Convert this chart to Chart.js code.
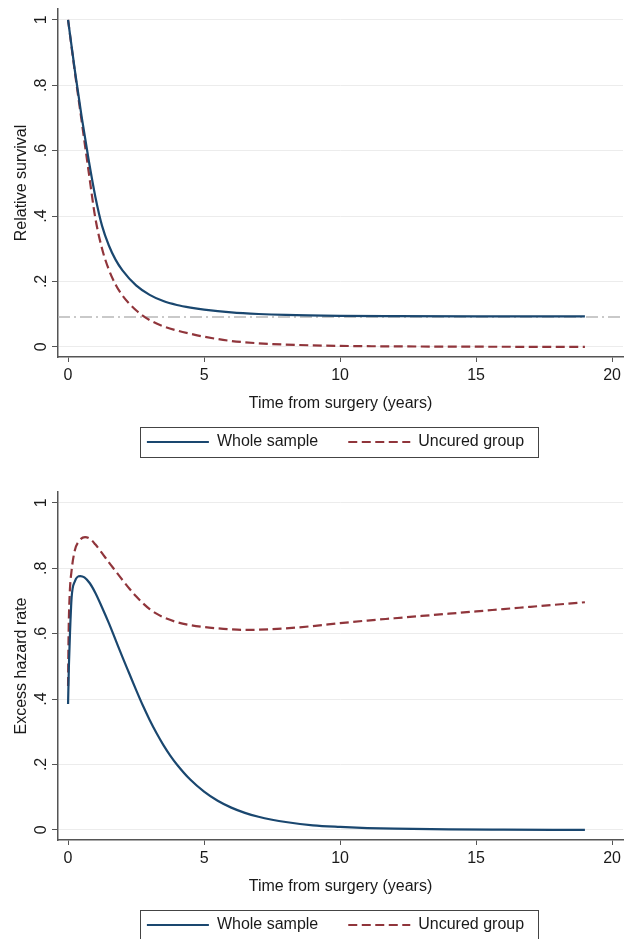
<!DOCTYPE html>
<html>
  <head>
    <meta charset="utf-8" />
    <script src="https://cdn.jsdelivr.net/npm/chart.js"></script>
    <style>
      html,
      body {
        margin: 0;
        padding: 0;
        background: #fff;
        overflow: hidden;
      }
      body {
        width: 632px;
        height: 939px;
        position: relative;
      }
      canvas {
        position: absolute;
        left: 0;
      }
      #survival_chart {
        top: 0;
      }
      #hazard_chart {
        top: 483px;
      }
    </style>
  </head>
  <body>
    <canvas id="survival_chart" width="632" height="470"></canvas>
    <canvas id="hazard_chart" width="632" height="470"></canvas>
    <script>
      // Relative survival (top panel)
      const survTime = [0, 0.25, 0.5, 0.75, 1, 1.25, 1.5, 1.75, 2, 2.5, 3, 3.5, 4, 4.5, 5, 6, 7, 8, 10, 12, 15, 19];
      const survWhole = [1, 0.845, 0.703, 0.575, 0.46, 0.37, 0.31, 0.266, 0.234, 0.188, 0.159, 0.14, 0.128, 0.12, 0.114, 0.1055, 0.1005, 0.0975, 0.0948, 0.0938, 0.0932, 0.093];
      const survUncured = [1, 0.84, 0.69, 0.54, 0.395, 0.3, 0.236, 0.19, 0.157, 0.112, 0.082, 0.063, 0.05, 0.04, 0.031, 0.018, 0.011, 0.007, 0.003, 0.0015, 0.0005, 0];
      const cureFraction = 0.091;

      // Excess hazard rate (bottom panel)
      const hazWholeTime = [0, 0.03, 0.07, 0.13, 0.25, 0.45, 0.6, 0.8, 1, 1.25, 1.5, 1.75, 2, 2.25, 2.5, 2.75, 3, 3.25, 3.5, 3.75, 4, 4.5, 5, 5.5, 6, 6.5, 7, 7.5, 8, 9, 10, 11, 12, 14, 16, 19];
      const hazWhole = [0.385, 0.5, 0.6, 0.71, 0.76, 0.776, 0.772, 0.754, 0.725, 0.68, 0.632, 0.58, 0.528, 0.478, 0.428, 0.38, 0.336, 0.296, 0.26, 0.228, 0.2, 0.153, 0.117, 0.089, 0.068, 0.052, 0.04, 0.031, 0.024, 0.014, 0.009, 0.0055, 0.0035, 0.0015, 0.0007, 0];
      const hazUncuredTime = [0, 0.02, 0.06, 0.13, 0.25, 0.4, 0.625, 0.8, 1, 1.25, 1.5, 1.75, 2, 2.25, 2.5, 2.75, 3, 3.25, 3.5, 4, 4.5, 5, 5.5, 6, 6.5, 7, 8, 9, 10, 11, 12, 13, 14, 15, 16, 17, 18, 19];
      const hazUncured = [0.44, 0.6, 0.72, 0.793, 0.855, 0.883, 0.895, 0.89, 0.873, 0.846, 0.818, 0.791, 0.764, 0.738, 0.714, 0.693, 0.675, 0.661, 0.65, 0.635, 0.626, 0.62, 0.616, 0.613, 0.6115, 0.612, 0.616, 0.623, 0.632, 0.64, 0.647, 0.654, 0.661, 0.668, 0.675, 0.682, 0.689, 0.696];

      // Axes
      const xTicks = [0, 5, 10, 15, 20];
      const xTickLabels = ["0", "5", "10", "15", "20"];
      const yTicks = [0, 0.2, 0.4, 0.6, 0.8, 1];
      const yTickLabels = ["0", ".2", ".4", ".6", ".8", "1"];
      const xMin = -0.37;
      const xMax = 20.4;
      const yMin = -0.031;
      const yMax = 1.033;

      const seriesNames = ["Whole sample", "Uncured group"];
      const blue = "#1a476f";
      const red = "#90353b";
      const textColor = "#1a1a1a";
      const axisColor = "#555555";
      const font = { family: "'Liberation Sans', Arial, sans-serif", size: 16 };

      Chart.defaults.font.family = font.family;
      Chart.defaults.font.size = 16;

      function toPoints(xs, ys) {
        return xs.map((x, i) => ({ x: x, y: ys[i] }));
      }

      // y tick labels are rotated like in Stata
      const rotatedYLabels = {
        id: "rotatedYLabels",
        afterDraw(chart) {
          const ctx = chart.ctx;
          const s = chart.scales.y;
          ctx.save();
          ctx.font = "16px " + font.family;
          ctx.fillStyle = textColor;
          ctx.textAlign = "center";
          ctx.textBaseline = "alphabetic";
          for (let i = 0; i < yTicks.length; i++) {
            const py = s.getPixelForValue(yTicks[i]);
            ctx.save();
            ctx.translate(45.5, py);
            ctx.rotate(-Math.PI / 2);
            ctx.fillText(yTickLabels[i], 0, 0);
            ctx.restore();
          }
          ctx.restore();
        },
      };

      // nudge the legend a little left and frame it
      const legendFrame = {
        id: "legendFrame",
        afterUpdate(chart) {
          const lg = chart.legend;
          lg.left -= 5;
          lg.right -= 5;
          lg.legendHitBoxes.forEach((b) => {
            b.left -= 5;
          });
        },
        afterDraw(chart) {
          const boxes = chart.legend.legendHitBoxes;
          if (!boxes || !boxes.length) return;
          const ctx = chart.ctx;
          const first = boxes[0];
          const last = boxes[boxes.length - 1];
          const cy = first.top + first.height / 2;
          const left = Math.round(first.left - 7) + 0.5;
          const right = Math.round(last.left + last.width + 14) + 0.5;
          const top = Math.round(cy - 15) + 0.5;
          ctx.save();
          ctx.strokeStyle = "#444";
          ctx.lineWidth = 1;
          ctx.strokeRect(left, top, right - left, 30);
          ctx.restore();
        },
      };

      // legend samples take dash and width from the line, not the point
      function legendLabels(chart) {
        const items = Chart.defaults.plugins.legend.labels.generateLabels(chart);
        return items.map((item) => {
          const ds = chart.data.datasets[item.datasetIndex];
          item.lineDash = ds.borderDash || [];
          item.lineWidth = ds.borderWidth;
          item.strokeStyle = ds.borderColor;
          return item;
        });
      }

      function makeOptions(yTitle) {
        return {
          responsive: false,
          animation: false,
          events: [],
          layout: { padding: { left: 0, right: 9, top: 9, bottom: 10 } },
          plugins: {
            title: { display: false },
            tooltip: { enabled: false },
            legend: {
              position: "bottom",
              fullSize: false,
              labels: {
                usePointStyle: true,
                pointStyle: "line",
                pointStyleWidth: 62,
                padding: 30,
                color: textColor,
                font: font,
                generateLabels: legendLabels,
                filter: (item) => item.datasetIndex < 2,
              },
            },
          },
          scales: {
            x: {
              type: "linear",
              min: xMin,
              max: xMax,
              afterBuildTicks: (s) => {
                s.ticks = xTicks.map((v) => ({ value: v }));
              },
              afterFit: (s) => {
                s.height = 47;
              },
              ticks: {
                color: textColor,
                font: font,
                padding: 4,
                maxRotation: 0,
                autoSkip: false,
                callback: (v, i) => xTickLabels[i],
              },
              grid: {
                drawOnChartArea: false,
                drawTicks: true,
                tickLength: 5,
                tickColor: axisColor,
              },
              border: { color: axisColor, width: 1.5 },
              title: {
                display: true,
                text: "Time from surgery (years)",
                color: textColor,
                font: font,
                padding: { top: 0, bottom: -9 },
              },
            },
            y: {
              min: yMin,
              max: yMax,
              afterBuildTicks: (s) => {
                s.ticks = yTicks.map((v) => ({ value: v }));
              },
              afterFit: (s) => {
                s.width = 58;
              },
              ticks: { display: false },
              grid: {
                color: "#ececec",
                drawTicks: true,
                tickLength: 6,
                tickColor: axisColor,
              },
              border: { color: axisColor, width: 1.5 },
              title: {
                display: true,
                text: yTitle,
                color: textColor,
                font: font,
                padding: { top: 12, bottom: 0 },
              },
            },
          },
        };
      }

      function lineSet(label, points, color, dash, width) {
        return {
          label: label,
          data: points,
          borderColor: color,
          backgroundColor: color,
          borderWidth: width,
          borderDash: dash,
          pointRadius: 0,
          fill: false,
          cubicInterpolationMode: "monotone",
        };
      }

      // Top: relative survival
      new Chart("survival_chart", {
        type: "line",
        data: {
          datasets: [
            lineSet(seriesNames[0], toPoints(survTime, survWhole), blue, [], 2.2),
            lineSet(seriesNames[1], toPoints(survTime, survUncured), red, [9, 4.5], 2.2),
            {
              label: "Cure fraction",
              data: toPoints([xMin, xMax], [cureFraction, cureFraction]),
              borderColor: "#b8b8b8",
              borderWidth: 1.5,
              borderDash: [12, 4, 2, 4],
              pointRadius: 0,
              fill: false,
            },
          ],
        },
        plugins: [rotatedYLabels, legendFrame],
        options: makeOptions("Relative survival"),
      });

      // Bottom: excess hazard rate
      new Chart("hazard_chart", {
        type: "line",
        data: {
          datasets: [
            lineSet(seriesNames[0], toPoints(hazWholeTime, hazWhole), blue, [], 2.2),
            lineSet(seriesNames[1], toPoints(hazUncuredTime, hazUncured), red, [9, 4.5], 2.2),
          ],
        },
        plugins: [rotatedYLabels, legendFrame],
        options: makeOptions("Excess hazard rate"),
      });
    </script>
  </body>
</html>
